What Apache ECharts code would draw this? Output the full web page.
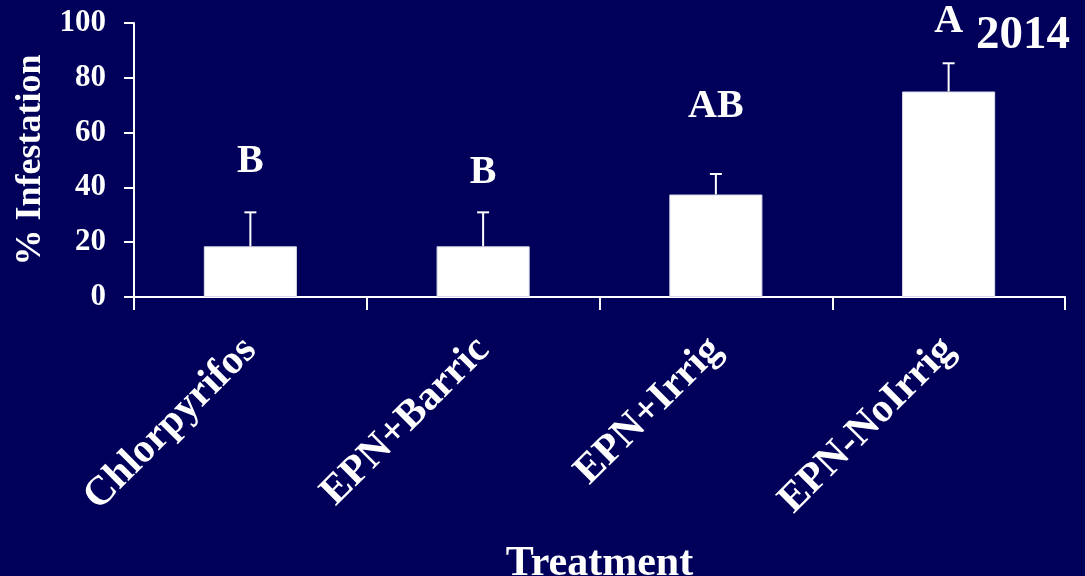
<!DOCTYPE html>
<html><head><meta charset="utf-8">
<script src="https://cdn.jsdelivr.net/npm/echarts@6/dist/echarts.min.js"></script>
<style>html,body{margin:0;padding:0;background:#00005a;} #c{width:1085px;height:576px;}</style>
</head><body><div id="c"></div>
<script>
const categories = ['Chlorpyrifos', 'EPN+Barric', 'EPN+Irrig', 'EPN-NoIrrig'];
const infestation = [18.5, 18.5, 37.4, 75.0];
const errorTop = [30.9, 30.9, 44.9, 85.3];
const letters = ['B', 'B', 'AB', 'A'];
const letterY = [49.3, 45.3, 69.3, 100.6];
const yTicks = [0, 20, 40, 60, 80, 100];
const yearLabel = '2014';
const yAxisName = '% Infestation';
const xAxisName = 'Treatment';

const FONT = '"Liberation Serif", "Times New Roman", serif';
const chart = echarts.init(document.getElementById('c'), null, {renderer: 'canvas'});

chart.setOption({
  animation: false,
  backgroundColor: '#00005a',
  title: {
    text: yearLabel, right: 10, top: 7,
    textStyle: {color: '#fff', fontSize: 47, fontWeight: 'bold', fontFamily: FONT}
  },
  grid: {left: 134, right: 20, top: 23, bottom: 279, containLabel: false, outerBoundsMode: 'none'},
  xAxis: {
    type: 'category', data: categories, boundaryGap: true,
    axisLine: {show: true, lineStyle: {color: '#fff', width: 2}},
    axisTick: {show: true, length: 13, alignWithLabel: false, lineStyle: {color: '#fff', width: 2}},
    axisLabel: {
      rotate: 45, margin: 47, interval: 0, color: '#fff', fontSize: 41, fontWeight: 'bold',
      fontFamily: FONT
    },
    name: xAxisName, nameLocation: 'middle', nameGap: 246,
    nameTextStyle: {color: '#fff', fontSize: 42, fontWeight: 'bold', fontFamily: FONT},
    splitLine: {show: false}
  },
  yAxis: {
    type: 'value', min: yTicks[0], max: yTicks[yTicks.length - 1], interval: yTicks[1] - yTicks[0],
    axisLine: {show: true, lineStyle: {color: '#fff', width: 2}},
    axisTick: {show: true, length: 10, lineStyle: {color: '#fff', width: 2}},
    axisLabel: {margin: 28, color: '#fff', fontSize: 31, fontWeight: 'bold', fontFamily: FONT},
    splitLine: {show: false},
    name: yAxisName, nameLocation: 'middle', nameRotate: 90, nameGap: 84,
    nameTextStyle: {color: '#fff', fontSize: 36, fontWeight: 'bold', fontFamily: FONT}
  },
  series: [
    {
      type: 'bar', data: infestation, barWidth: '40%',
      itemStyle: {color: '#ffffff', borderColor: '#d8d8e8', borderWidth: 1}
    },
    {
      type: 'custom', z: 5,
      data: categories.map((c, i) => [i, infestation[i], errorTop[i]]),
      renderItem: function (params, api) {
        const lo = api.coord([api.value(0), api.value(1)]);
        const hi = api.coord([api.value(0), api.value(2)]);
        const st = {stroke: '#ffffff', lineWidth: 2};
        return {
          type: 'group',
          children: [
            {type: 'line', shape: {x1: lo[0], y1: lo[1], x2: hi[0], y2: hi[1]}, style: st},
            {type: 'line', shape: {x1: hi[0] - 6, y1: hi[1], x2: hi[0] + 6, y2: hi[1]}, style: st}
          ]
        };
      }
    },
    {
      type: 'scatter', clip: false, symbolSize: 1,
      itemStyle: {color: 'rgba(0,0,0,0)', opacity: 1},
      data: categories.map((c, i) => [i, letterY[i]]),
      label: {
        show: true, position: 'inside', color: '#ffffff', fontSize: 40, fontWeight: 'bold', fontFamily: FONT,
        formatter: p => letters[p.dataIndex]
      }
    }
  ]
});
</script></body></html>
